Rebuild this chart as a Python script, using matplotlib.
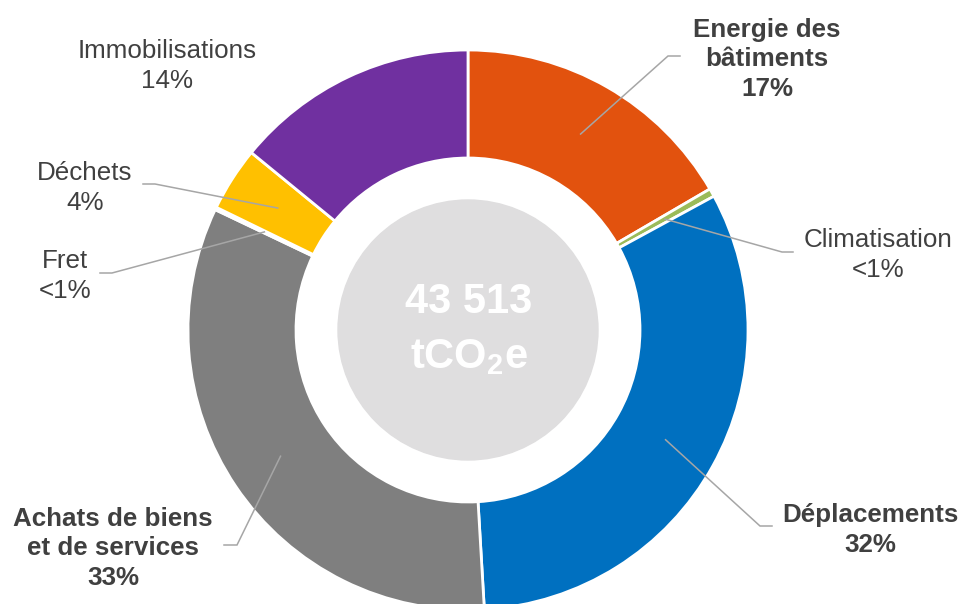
import numpy as np
import matplotlib
matplotlib.use('Agg')
import matplotlib.pyplot as plt

plt.rcParams['font.family'] = ['Liberation Sans', 'DejaVu Sans']
plt.rcParams['mathtext.fontset'] = 'custom'
plt.rcParams['mathtext.rm'] = 'Liberation Sans:bold'
plt.rcParams['mathtext.it'] = 'Liberation Sans:bold'
plt.rcParams['mathtext.bf'] = 'Liberation Sans:bold'

# emission shares (% of total footprint), clockwise from 12 o'clock
categories = ['Energie des\nbâtiments', 'Climatisation', 'Déplacements',
              'Achats de biens\net de services', 'Fret', 'Déchets', 'Immobilisations']
shares = [16.6, 0.47, 32.0, 33.0, 0.15, 3.7, 14.08]
pct_labels = ['17%', '<1%', '32%', '33%', '<1%', '4%', '14%']
bold_label = [True, False, True, True, False, False, False]
colors = ['#e2520e', '#9bbb59', '#0070c0', '#7f7f7f', '#a5a5a5', '#ffc000', '#7030a0']
total = '43 513'

W, H = 962, 604
cx, cy = 468, H - 330
r_out, ring = 280, 108

# label layout (pixel coords, y from top): last-line baseline, leader elbow and end
label_pos = [(767, 96), (878, 277), (870, 552), (113, 585), (65, 298), (85, 210), (167, 88)]
elbows = [((668, 56), (680, 56)), ((782, 252), (793, 252)), ((760, 526), (772, 526)),
          ((237, 545), (224, 545)), ((112, 273), (100, 273)), ((155, 184), (143, 184)), None]

fig = plt.figure(figsize=(W / 100, H / 100), dpi=100)
ax = fig.add_axes([0, 0, 1, 1])

wedges, _ = ax.pie(shares, colors=colors, startangle=90, counterclock=False,
                   radius=r_out, center=(cx, cy),
                   wedgeprops=dict(width=ring, edgecolor='white', linewidth=2))
ax.add_patch(plt.Circle((cx, cy), 130, color='#dfdedf', zorder=3))

ax.text(cx + 1, H - 313, total, ha='center', va='baseline', color='white',
        fontsize=30, fontweight='bold', zorder=4)
ax.text(cx + 1, H - 368, 'tCO$_2$e', ha='center', va='baseline', color='white',
        fontsize=30, fontweight='bold', zorder=4)

r_mid = r_out - ring / 2
for i, w in enumerate(wedges):
    x, y = label_pos[i]
    ax.text(x, H - y, categories[i] + '\n' + pct_labels[i], ha='center', va='baseline',
            multialignment='center', fontsize=18.7, color='#404040', linespacing=1.29,
            fontweight='bold' if bold_label[i] else 'normal')
    if elbows[i] is None:
        continue
    ang = np.deg2rad((w.theta1 + w.theta2) / 2)
    sx, sy = cx + r_mid * np.cos(ang), cy + r_mid * np.sin(ang)
    (ex, ey), (fx, fy) = elbows[i]
    ax.plot([sx, ex, fx], [sy, H - ey, H - fy], color='#a6a6a6', lw=1.1,
            solid_joinstyle='miter', zorder=5)

ax.set_xlim(0, W)
ax.set_ylim(0, H)
ax.set_aspect('equal')
ax.axis('off')
fig.savefig('out.png', dpi=100, facecolor='white')
